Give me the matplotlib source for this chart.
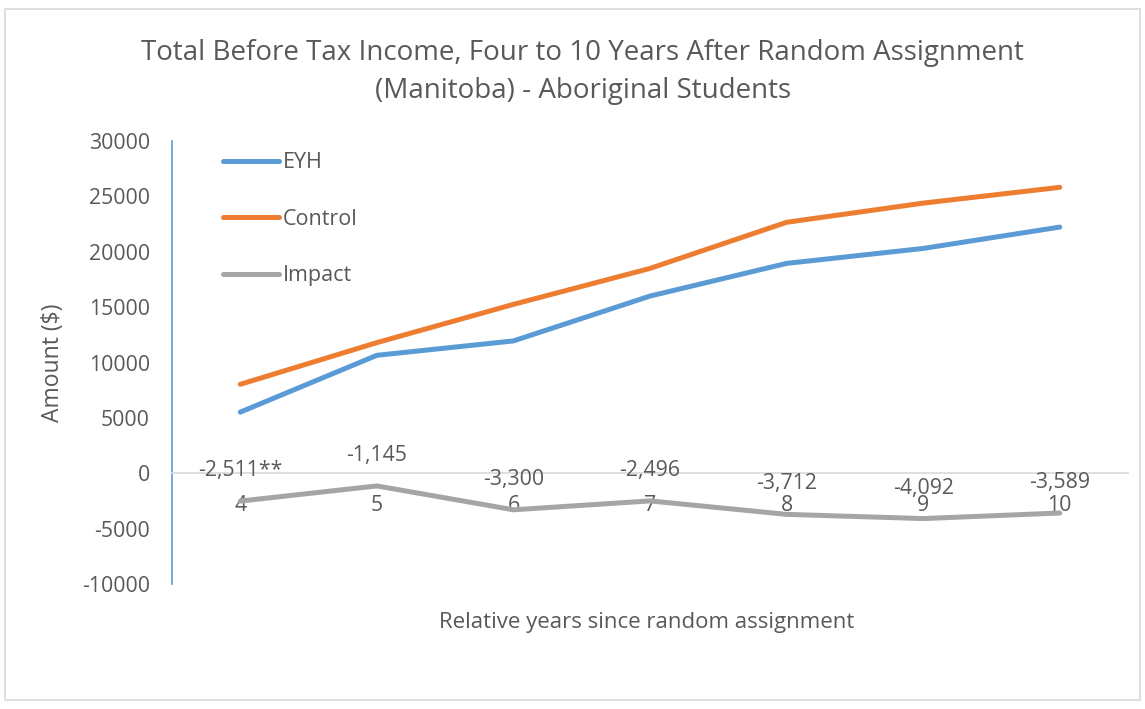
import matplotlib.pyplot as plt
from matplotlib.patches import Rectangle

plt.rcParams['font.family'] = ['Open Sans', 'DejaVu Sans']
plt.rcParams['axes.unicode_minus'] = False

years = [4, 5, 6, 7, 8, 9, 10]
eyh = [5520, 10650, 11950, 16000, 18950, 20300, 22230]
control = [8031, 11795, 15250, 18496, 22662, 24392, 25819]
impact = [-2511, -1145, -3300, -2496, -3712, -4092, -3589]
impact_labels = ["-2,511**", "-1,145", "-3,300", "-2,496", "-3,712", "-4,092", "-3,589"]

text_color = "#595959"

fig = plt.figure(figsize=(11.45, 7.09), dpi=100)
fig.patches.append(Rectangle((0.004, 0.012), 0.992, 0.976, transform=fig.transFigure,
                             fill=False, edgecolor="#D9D9D9", linewidth=1.2))

ax = fig.add_axes([0.1502, 0.1763, 0.835, 0.6248])

ax.plot(years, eyh, color="#5B9BD5", linewidth=3.6, solid_capstyle="round", label="EYH")
ax.plot(years, control, color="#ED7D31", linewidth=3.6, solid_capstyle="round", label="Control")
ax.plot(years, impact, color="#A5A5A5", linewidth=3.6, solid_capstyle="round", label="Impact")

for x, y, lab in zip(years, impact, impact_labels):
    ax.annotate(lab, (x, y), xytext=(0, 22), textcoords="offset points",
                ha="center", va="center", fontsize=15.3, color=text_color)

ax.set_xlim(3.5, 10.5)
ax.set_ylim(-10000, 30000)
ax.set_yticks(range(-10000, 30001, 5000))
ax.set_xticks(years)
ax.set_xticklabels([str(y) for y in years])

for side in ["top", "right"]:
    ax.spines[side].set_visible(False)
ax.spines["left"].set_color("#5B9BD5")
ax.spines["left"].set_linewidth(1.2)
ax.spines["bottom"].set_position(("data", 0))
ax.spines["bottom"].set_color("#D9D9D9")
ax.spines["bottom"].set_linewidth(1.2)

ax.tick_params(axis="y", length=0, pad=16, labelsize=15.3, labelcolor=text_color)
ax.tick_params(axis="x", length=0, pad=16, labelsize=15.3, labelcolor=text_color)

ax.set_ylabel("Amount ($)", fontsize=16.5, color=text_color, labelpad=12)
fig.text(0.565, 0.122, "Relative years since random assignment", ha="center", va="center",
         fontsize=16, color=text_color)

fig.text(0.509, 0.925, "Total Before Tax Income, Four to 10 Years After Random Assignment",
         ha="center", va="center", fontsize=20, color=text_color)
fig.text(0.509, 0.871, "(Manitoba) - Aboriginal Students",
         ha="center", va="center", fontsize=20, color=text_color)

ax.legend(loc="upper left", bbox_to_anchor=(0.033, 1.018), frameon=False, fontsize=15.5,
          labelcolor=text_color, handlelength=2.6, handletextpad=0.2, labelspacing=1.65)

fig.savefig("out.png", dpi=100)
